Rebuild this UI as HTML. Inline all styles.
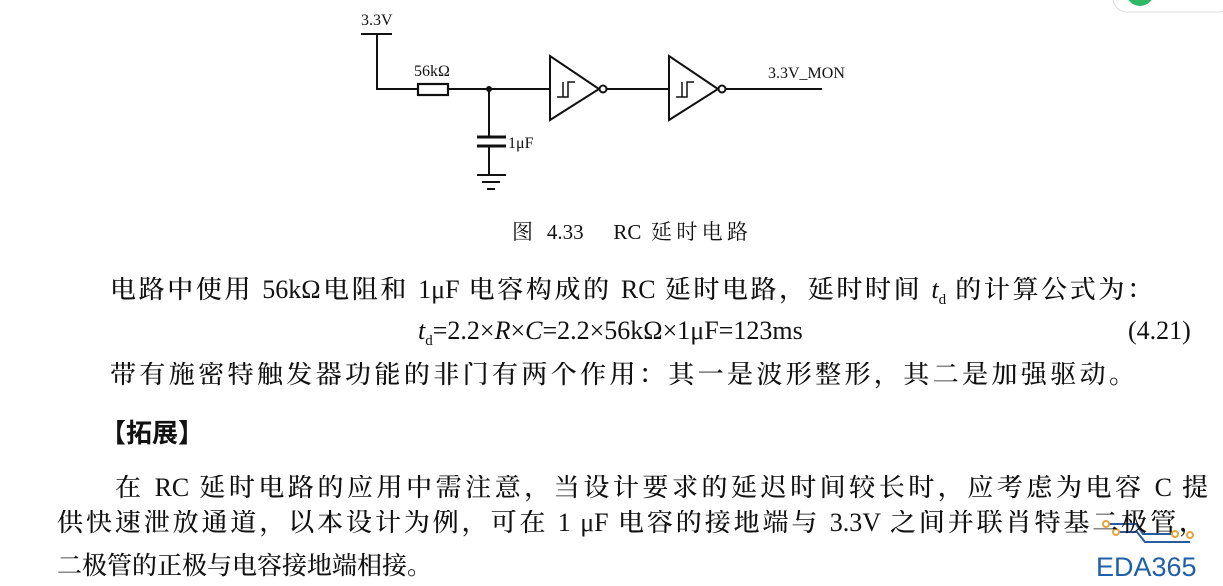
<!DOCTYPE html>
<html><head><meta charset="utf-8"><style>
body{margin:0;width:1223px;height:586px;background:#fff;overflow:hidden;position:relative;font-family:"Liberation Serif","Noto Serif CJK SC",serif;color:#111}
.t{position:absolute;white-space:nowrap;font-size:26px;line-height:26px;font-weight:500}
.j{text-align:justify;text-align-last:justify;white-space:normal;overflow:hidden;height:30px}
</style></head><body>
<svg width="1223" height="586" style="position:absolute;left:0;top:0" font-family="Liberation Serif, serif">
<g stroke="#111" stroke-width="2" fill="none">
<line x1="361" y1="34" x2="392" y2="34"/>
<polyline points="377,34 377,89 418,89"/>
<rect x="418" y="84" width="30" height="11" stroke-width="2.2"/>
<line x1="448" y1="89" x2="550" y2="89"/>
<line x1="489" y1="89" x2="489" y2="137"/>
<line x1="477" y1="137" x2="506" y2="137" stroke-width="3"/>
<line x1="477" y1="146" x2="506" y2="146" stroke-width="3"/>
<line x1="489" y1="146" x2="489" y2="175"/>
<line x1="477" y1="175" x2="506" y2="175"/>
<line x1="482" y1="182" x2="500" y2="182"/>
<line x1="487" y1="189" x2="495" y2="189"/>
<polygon points="550,56 550,120 599,89"/>
<circle cx="603" cy="89" r="3.5"/>
<line x1="607" y1="89" x2="669" y2="89"/>
<polygon points="669,56 669,120 718,89"/>
<circle cx="722" cy="89" r="3.5"/>
<line x1="726" y1="89" x2="822" y2="89"/>
<polyline points="557,97 568,97 568,82 575,82" stroke-width="1.5"/>
<polyline points="563,97 563,82" stroke-width="1.5"/>
<polyline points="676,97 687,97 687,82 694,82" stroke-width="1.5"/>
<polyline points="682,97 682,82" stroke-width="1.5"/>
</g>
<circle cx="489" cy="89" r="3" fill="#111"/>
<g font-size="16" fill="#111">
<text x="361" y="25">3.3V</text>
<text x="414" y="76">56kΩ</text>
<text x="508" y="148">1μF</text>
<text x="768" y="78">3.3V_MON</text>
</g>
<rect x="1113" y="-20" width="120" height="32" rx="14" fill="#fff" stroke="#ddd"/>
<circle cx="1140" cy="-8" r="14" fill="#2cb865"/>
<g stroke="#2a5aa0" stroke-width="2" fill="none"><polyline points="1106,524 1136,524 1143,534 1175,534"/><polyline points="1116,532 1137,532 1145,542 1190,542"/></g>
<g fill="#fff" stroke="#e8a33a" stroke-width="2"><circle cx="1106" cy="524" r="3"/><circle cx="1116" cy="532" r="3"/><circle cx="1175" cy="534" r="3"/><circle cx="1190" cy="535" r="3"/></g>
<text x="1096" y="576" font-family="Liberation Sans, sans-serif" font-size="27" fill="#1f5fa8">EDA365</text>
</svg>
<div class="t j" style="left:512px;top:221px;width:236px;font-size:21px;line-height:22px;height:24px;font-weight:400">图 4.33　RC 延时电路</div>
<div class="t j" style="left:110px;top:277px;width:1043px">电路中使用 56kΩ电阻和 1μF 电容构成的 RC 延时电路，延时时间 <i>t</i><sub style="font-size:15px;line-height:0">d</sub> 的计算公式为：</div>
<div class="t j" style="left:418px;top:318px;width:492px"><i>t</i><sub style="font-size:15px;line-height:0">d</sub>=2.2×<i>R</i>×<i>C</i>=2.2×56kΩ×1μF=123ms</div>
<div class="t" style="left:1128px;top:318px">(4.21)</div>
<div class="t j" style="left:110px;top:362px;width:1025px">带有施密特触发器功能的非门有两个作用：其一是波形整形，其二是加强驱动。</div>
<div class="t" style="left:100px;top:419px;font-weight:bold;font-family:'Noto Sans CJK SC',sans-serif">【拓展】</div>
<div class="t j" style="left:115px;top:475px;width:1093px">在 RC 延时电路的应用中需注意，当设计要求的延迟时间较长时，应考虑为电容 C 提</div>
<div class="t j" style="left:57px;top:510px;width:1148px">供快速泄放通道，以本设计为例，可在 1 μF 电容的接地端与 3.3V 之间并联肖特基二极管，</div>
<div class="t" style="left:57px;top:554px;font-size:25px">二极管的正极与电容接地端相接。</div>
</body></html>
